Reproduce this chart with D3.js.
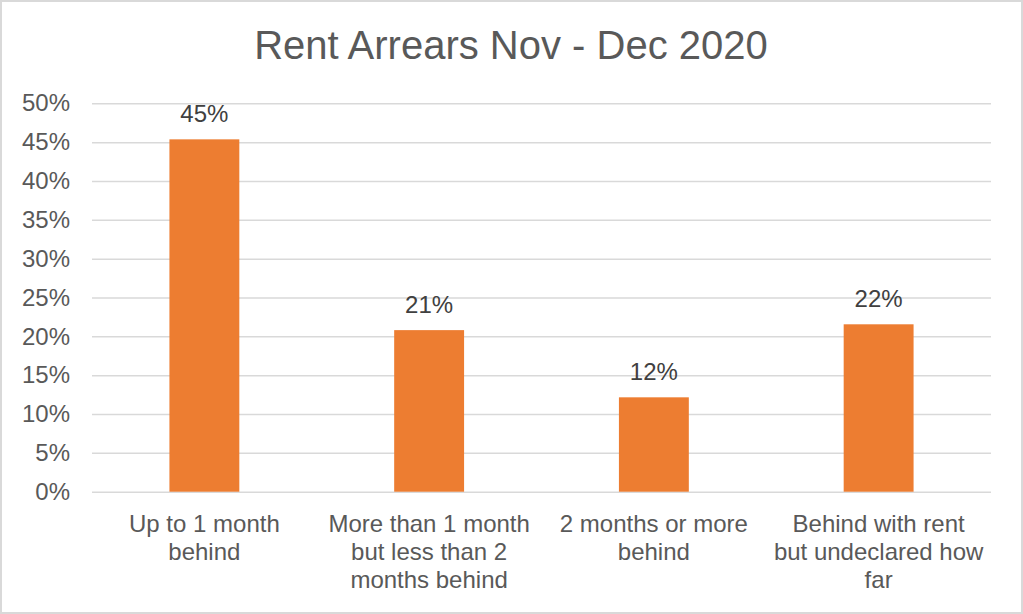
<!DOCTYPE html>
<html>
<head>
<meta charset="utf-8">
<script src="https://cdn.jsdelivr.net/npm/d3@7"></script>
<style>
  html, body { margin: 0; padding: 0; background: #fff; }
  svg { display: block; font-family: "Liberation Sans", Arial, sans-serif; }
</style>
</head>
<body>
<svg id="svg" width="1023" height="614"></svg>
<script>
const title = 'Rent Arrears Nov - Dec 2020';
const categories = [
  ['Up to 1 month', 'behind'],
  ['More than 1 month', 'but less than 2', 'months behind'],
  ['2 months or more', 'behind'],
  ['Behind with rent', 'but undeclared how', 'far']
];
const values = [0.4536, 0.208, 0.1215, 0.2155];
const yTicks = [0, 0.05, 0.1, 0.15, 0.2, 0.25, 0.3, 0.35, 0.4, 0.45, 0.5];

const svg = d3.select('#svg');
const W = 1023, H = 614;
const plot = { left: 92, right: 991, top: 103.3, bottom: 491.7 };

// frame
svg.append('rect')
  .attr('x', 1).attr('y', 1)
  .attr('width', W - 2).attr('height', H - 2)
  .attr('fill', '#fff')
  .attr('stroke', '#d9d9d9')
  .attr('stroke-width', 2);

svg.append('text')
  .attr('x', 511)
  .attr('y', 59)
  .attr('text-anchor', 'middle')
  .attr('font-size', 40)
  .attr('fill', '#595959')
  .text(title);

const x = d3.scaleBand()
  .domain(d3.range(categories.length))
  .range([plot.left, plot.right])
  .paddingInner(0.689)
  .paddingOuter(0.3445);

const y = d3.scaleLinear()
  .domain([0, 0.5])
  .range([plot.bottom, plot.top]);

const yAxis = d3.axisLeft(y)
  .tickValues(yTicks)
  .tickFormat(d3.format('.0%'))
  .tickSizeInner(-(plot.right - plot.left))
  .tickSizeOuter(0)
  .tickPadding(22);

const gy = svg.append('g')
  .attr('transform', 'translate(' + plot.left + ',0)')
  .call(yAxis);
gy.select('.domain').remove();
gy.selectAll('.tick line')
  .attr('stroke', '#d9d9d9')
  .attr('stroke-width', 1.5);
gy.selectAll('.tick text')
  .attr('font-size', 24)
  .attr('fill', '#595959')
  .attr('font-family', '"Liberation Sans", Arial, sans-serif');

// bars
svg.append('g')
  .selectAll('rect')
  .data(values)
  .enter()
  .append('rect')
  .attr('x', (d, i) => x(i))
  .attr('y', d => y(d))
  .attr('width', x.bandwidth())
  .attr('height', d => y(0) - y(d))
  .attr('fill', '#ed7d31');

// data labels
svg.append('g')
  .selectAll('text')
  .data(values)
  .enter()
  .append('text')
  .attr('x', (d, i) => x(i) + x.bandwidth() / 2)
  .attr('y', d => y(d) - 17.5)
  .attr('text-anchor', 'middle')
  .attr('font-size', 24)
  .attr('fill', '#404040')
  .text(d => d3.format('.0%')(d));

// category labels
const cat = svg.append('g')
  .selectAll('text')
  .data(categories)
  .enter()
  .append('text')
  .attr('text-anchor', 'middle')
  .attr('font-size', 24)
  .attr('fill', '#595959');
cat.each(function(lines, i) {
  d3.select(this)
    .selectAll('tspan')
    .data(lines)
    .enter()
    .append('tspan')
    .attr('x', x(i) + x.bandwidth() / 2)
    .attr('y', (l, j) => 531.7 + j * 28.3)
    .text(l => l);
});
</script>
</body>
</html>
